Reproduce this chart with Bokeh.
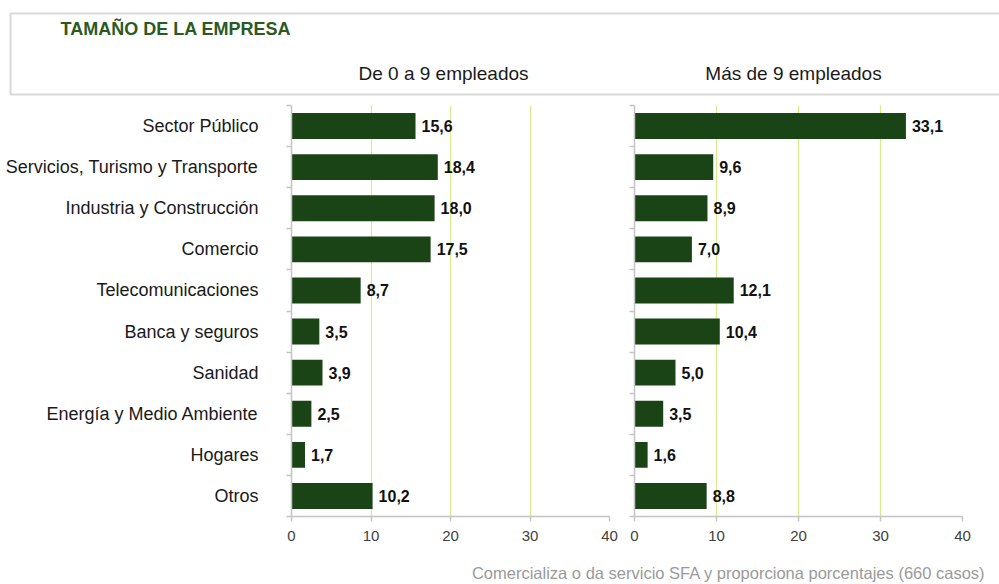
from bokeh.plotting import figure
from bokeh.models import (Range1d, LinearAxis, FixedTicker, CustomJSTickFormatter, ColumnDataSource)
from bokeh.layouts import column, row
from bokeh.core.properties import value
from bokeh.embed import file_html
from bokeh.resources import INLINE

# ---- data ----
categories = ["Sector Público", "Servicios, Turismo y Transporte", "Industria y Construcción",
              "Comercio", "Telecomunicaciones", "Banca y seguros", "Sanidad",
              "Energía y Medio Ambiente", "Hogares", "Otros"]
small_firms = [15.6, 18.4, 18.0, 17.5, 8.7, 3.5, 3.9, 2.5, 1.7, 10.2]
large_firms = [33.1, 9.6, 8.9, 7.0, 12.1, 10.4, 5.0, 3.5, 1.6, 8.8]
x_ticks = [0, 10, 20, 30, 40]
title_text = "TAMAÑO DE LA EMPRESA"
panel_titles = ["De 0 a 9 empleados", "Más de 9 empleados"]
footer_text = "Comercializa o da servicio SFA y proporciona porcentajes (660 casos)"

FONT = "Liberation Sans"
BAR = "#1a4416"
GRID = "#b4d61a"
AXIS = "#c4c4c4"


def fmt(v):
    return f"{v:.1f}".replace(".", ",")


N = len(categories)
rows_pos = [i + 0.5 for i in range(N)]


def panel(vals, width, left_border, right_border, with_labels):
    p = figure(width=width, height=452, output_backend="svg", toolbar_location=None,
               x_range=Range1d(0, 40), y_range=Range1d(N, 0),
               y_axis_location=None, min_border_left=left_border,
               min_border_right=right_border, min_border_top=5, min_border_bottom=36)
    p.outline_line_color = None
    p.background_fill_color = "white"
    p.border_fill_color = "white"
    p.ygrid.grid_line_color = None
    p.xgrid.ticker = FixedTicker(ticks=x_ticks[1:])
    p.xgrid.grid_line_color = GRID
    p.xgrid.grid_line_dash = "1 1"
    p.xgrid.grid_line_width = 1.2

    xa = p.xaxis[0]
    xa.ticker = FixedTicker(ticks=x_ticks)
    xa.axis_line_color = AXIS
    xa.axis_line_width = 1.5
    xa.major_tick_line_color = AXIS
    xa.major_tick_line_width = 1.5
    xa.major_tick_out = 5
    xa.major_tick_in = 0
    xa.minor_tick_line_color = None
    xa.major_label_text_font = FONT
    xa.major_label_text_font_size = "15px"
    xa.major_label_text_color = "#404040"
    xa.major_label_standoff = 9

    ta = LinearAxis(ticker=FixedTicker(ticks=list(range(N + 1))),
                    formatter=CustomJSTickFormatter(code="return ''"))
    ta.axis_line_color = AXIS
    ta.axis_line_width = 1.5
    ta.major_tick_line_color = AXIS
    ta.major_tick_line_width = 1.5
    ta.major_tick_out = 5
    ta.major_tick_in = 0
    ta.minor_tick_line_color = None
    ta.major_label_standoff = 0
    p.add_layout(ta, "left")

    if with_labels:
        ca = LinearAxis(ticker=FixedTicker(ticks=rows_pos),
                        formatter=CustomJSTickFormatter(args=dict(names=categories),
                                                        code="return names[Math.floor(tick)]"))
        ca.axis_line_color = None
        ca.major_tick_line_color = None
        ca.minor_tick_line_color = None
        ca.major_label_standoff = 22
        ca.major_label_text_font = FONT
        ca.major_label_text_font_size = "18px"
        ca.major_label_text_color = "#1a1a1a"
        p.add_layout(ca, "left")

    src = ColumnDataSource(dict(y=rows_pos, v=vals, lab=[fmt(v) for v in vals]))
    p.hbar(y="y", right="v", height=0.63, source=src, fill_color=BAR, line_color=None)
    p.text(x="v", y="y", text="lab", source=src, x_offset=6, text_baseline="middle",
           text_font=value(FONT), text_font_size="16px", text_font_style="bold",
           text_color="#111111")
    return p


left = panel(small_firms, 620, 291, 11, True)
right = panel(large_firms, 379, 14, 37, False)

header = figure(width=999, height=100, output_backend="svg", toolbar_location=None,
                x_range=Range1d(0, 999), y_range=Range1d(100, 0), min_border=0,
                x_axis_location=None, y_axis_location=None)
header.grid.grid_line_color = None
header.outline_line_color = None
header.quad(left=[10], right=[1020], top=[13], bottom=[94], fill_color=None,
            line_color="#d9d9d9", line_width=2)
header.text(x=[60], y=[28], text=[title_text], text_font=value(FONT), text_font_size="18px",
            text_font_style="bold", text_color="#2b5a1f", text_baseline="middle")
header.text(x=[443, 793], y=[73, 73], text=panel_titles, text_font=value(FONT),
            text_font_size="19px", text_color="#1a1a1a", text_baseline="middle",
            text_align="center")

footer = figure(width=999, height=32, output_backend="svg", toolbar_location=None,
                x_range=Range1d(0, 999), y_range=Range1d(32, 0), min_border=0,
                x_axis_location=None, y_axis_location=None)
footer.grid.grid_line_color = None
footer.outline_line_color = None
footer.text(x=[985], y=[20], text=[footer_text], text_font=value(FONT), text_font_size="16.5px",
            text_color="#9a9a9a", text_baseline="middle", text_align="right")

layout = column(header, row(left, right, spacing=0), footer, spacing=0)
open("out.html", "w").write(file_html(layout, INLINE))
